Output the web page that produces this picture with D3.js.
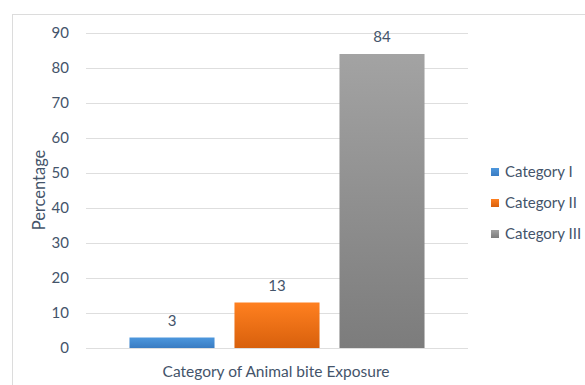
<!DOCTYPE html>
<html lang="en">
<head>
<meta charset="UTF-8">
<title>Animal bite exposure</title>
<script src="https://d3js.org/d3.v7.min.js"></script>
<style>
  body { margin: 0; background: #fff; }
  svg { font-family: Lato, "Open Sans", sans-serif; }
</style>
</head>
<body>
<div class="canvas"></div>
<script>
const categories = ['Category I', 'Category II', 'Category III']
const values = [3, 13, 84]
const yTicks = [0, 10, 20, 30, 40, 50, 60, 70, 80, 90]
const colors = [
  ['#4d97dd', '#3a7cc2'],
  ['#ff8020', '#d8600c'],
  ['#a3a3a3', '#7c7c7c']
]

const width = 585
const height = 385
const [ml, mr, mt, mb] = [86, 117, 33, 37]
const graphWidth = width - ml - mr
const graphHeight = height - mt - mb

const svg = d3.select('.canvas').append('svg')
  .attr('width', width).attr('height', height)

// chart border
svg.append('rect')
  .attr('x', 12.5).attr('y', 14.5)
  .attr('width', width).attr('height', height)
  .attr('fill', 'none').attr('stroke', '#dcdcdc')

const defs = svg.append('defs')
colors.forEach((c, i) => {
  const g = defs.append('linearGradient').attr('id', 'grad' + i)
    .attr('x1', 0).attr('y1', 0).attr('x2', 0).attr('y2', 1)
  g.append('stop').attr('offset', '0%').attr('stop-color', c[0])
  g.append('stop').attr('offset', '100%').attr('stop-color', c[1])
})

const graph = svg.append('g').attr('transform', `translate(${ml}, ${mt})`)

const y = d3.scaleLinear().domain([0, 90]).range([graphHeight, 0])
const x = d3.scaleBand().domain(categories).range([0, graphWidth])
  .paddingInner(0.19).paddingOuter(0.414)

// gridlines
graph.append('g').selectAll('line').data(yTicks).enter().append('line')
  .attr('x1', 0).attr('x2', graphWidth)
  .attr('y1', d => Math.round(y(d)) + 0.5).attr('y2', d => Math.round(y(d)) + 0.5)
  .attr('stroke', '#dedede')

// y axis labels
const yAxis = d3.axisLeft(y).tickValues(yTicks).tickSize(0).tickPadding(17)
const yAxisG = graph.append('g').call(yAxis)
yAxisG.select('.domain').remove()
yAxisG.selectAll('text').attr('fill', '#44546a')
  .style('font-size', '15px').style('font-family', 'Lato, sans-serif')

// bars
graph.selectAll('rect.bar').data(values).enter().append('rect')
  .attr('class', 'bar')
  .attr('x', (d, i) => x(categories[i]))
  .attr('y', d => y(d))
  .attr('width', x.bandwidth())
  .attr('height', d => graphHeight - y(d))
  .attr('fill', (d, i) => `url(#grad${i})`)

// value labels
graph.selectAll('text.val').data(values).enter().append('text')
  .attr('class', 'val')
  .attr('x', (d, i) => x(categories[i]) + x.bandwidth() / 2)
  .attr('y', d => y(d) - 12)
  .attr('text-anchor', 'middle')
  .attr('fill', '#44546a')
  .style('font-size', '15px')
  .text(d => d)

// axis titles
svg.append('text')
  .attr('x', 276).attr('y', 377)
  .attr('text-anchor', 'middle').attr('fill', '#44546a')
  .style('font-size', '15.5px')
  .text('Category of Animal bite Exposure')

svg.append('text')
  .attr('transform', 'translate(45, 190) rotate(-90)')
  .attr('text-anchor', 'middle').attr('fill', '#44546a')
  .style('font-size', '16.5px')
  .text('Percentage')

// legend
const legend = svg.append('g').attr('transform', 'translate(491, 172)')
const items = legend.selectAll('g').data(categories).enter().append('g')
  .attr('transform', (d, i) => `translate(0, ${i * 31})`)
items.append('rect')
  .attr('x', 0).attr('y', -4).attr('width', 8).attr('height', 8)
  .attr('fill', (d, i) => `url(#grad${i})`)
items.append('text')
  .attr('x', 14).attr('y', 0).attr('dy', '0.35em')
  .attr('fill', '#44546a').style('font-size', '15px')
  .text(d => d)
</script>
</body>
</html>
